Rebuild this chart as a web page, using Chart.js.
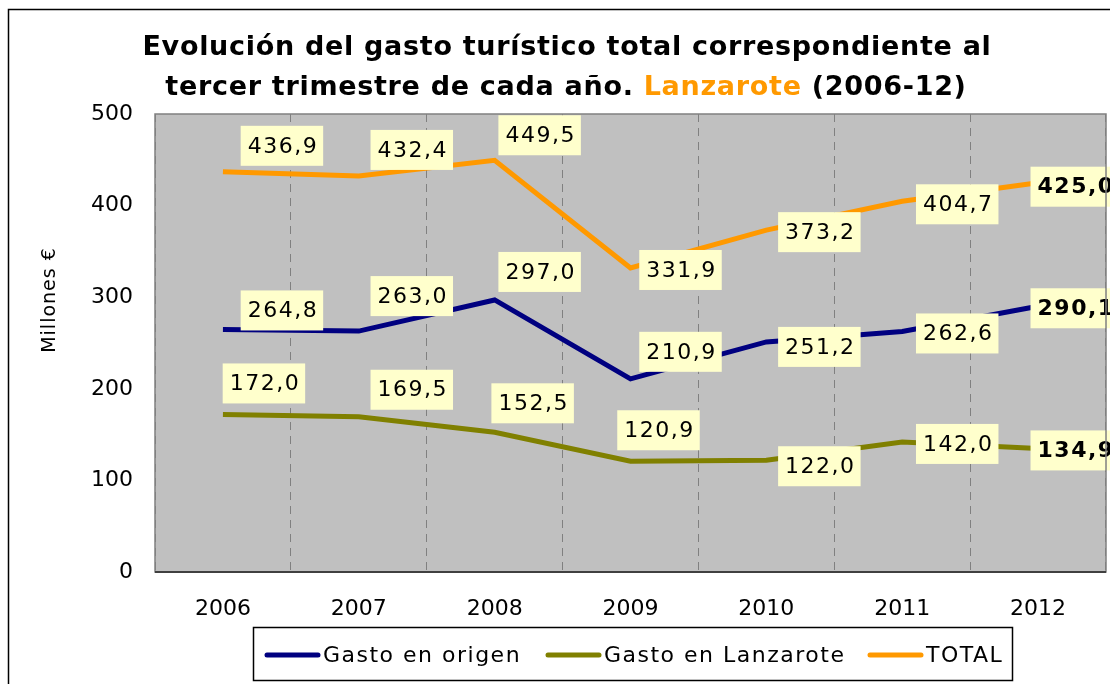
<!DOCTYPE html>
<html>
<head>
<meta charset="utf-8">
<script src="https://cdn.jsdelivr.net/npm/chart.js@4"></script>
<style>
  html, body { margin: 0; padding: 0; background: #fff; }
  #wrap { width: 1110px; height: 684px; }
</style>
</head>
<body>
<div id="wrap"><canvas id="grafico"></canvas></div>
<script>
const anios = ['2006', '2007', '2008', '2009', '2010', '2011', '2012'];
const gastoOrigen = [264.8, 263.0, 297.0, 210.9, 251.2, 262.6, 290.1];
const gastoLanzarote = [172.0, 169.5, 152.5, 120.9, 122.0, 142.0, 134.9];
const gastoTotal = [436.9, 432.4, 449.5, 331.9, 373.2, 404.7, 425.0];
const ticksY = [0, 100, 200, 300, 400, 500];

// desplazamiento de las etiquetas (centro de la caja respecto al punto)
const despOrigen = [[59,-19],[53,-35],[45,-28],[50,-27],[53,5],[55,2],[37,2]];
const despLanzarote = [[41,-31],[53,-27],[38,-29],[28,-31],[53,6],[55,2],[37,2]];
const despTotal = [[59,-26],[53,-26],[45,-25],[50,2],[53,2],[55,3],[37,4]];

const FUENTE = "'DejaVu Sans', Verdana, sans-serif";

const fmt = v => v.toFixed(1).replace('.', ',');

const fondoYMarco = {
    id: 'fondoYMarco',
    beforeDraw(chart) {
        const {ctx, chartArea: a} = chart;
        ctx.save();
        ctx.fillStyle = '#c0c0c0';
        ctx.fillRect(a.left, a.top, a.right - a.left, a.bottom - a.top);
        // marco exterior del grafico
        ctx.strokeStyle = '#000';
        ctx.lineWidth = 1.5;
        ctx.beginPath();
        ctx.moveTo(8.5, 700);
        ctx.lineTo(8.5, 9.5);
        ctx.lineTo(1120, 9.5);
        ctx.stroke();
        ctx.restore();
    },
    afterDraw(chart) {
        const {ctx, chartArea: a} = chart;
        ctx.save();
        ctx.strokeStyle = '#808080';
        ctx.lineWidth = 1.5;
        ctx.strokeRect(a.left, a.top, a.right - a.left, a.bottom - a.top);
        ctx.strokeStyle = '#404040';
        ctx.lineWidth = 2;
        ctx.beginPath();
        ctx.moveTo(a.left, a.bottom);
        ctx.lineTo(a.right, a.bottom);
        ctx.stroke();

        // titulo
        ctx.fillStyle = '#000';
        ctx.textBaseline = 'middle';
        ctx.font = 'bold 27px ' + FUENTE;
        ctx.letterSpacing = '0.7px';
        ctx.textAlign = 'center';
        ctx.fillText('Evolución del gasto turístico total correspondiente al', 567, 48);
        const p1 = 'tercer trimestre de cada año. ';
        const p2 = 'Lanzarote';
        const p3 = ' (2006-12)';
        const w1 = ctx.measureText(p1).width, w2 = ctx.measureText(p2).width, w3 = ctx.measureText(p3).width;
        let x = 566 - (w1 + w2 + w3) / 2;
        ctx.textAlign = 'left';
        ctx.fillText(p1, x, 88);
        ctx.fillStyle = '#ff9900';
        ctx.fillText(p2, x + w1, 88);
        ctx.fillStyle = '#000';
        ctx.fillText(p3, x + w1 + w2, 88);

        // titulo eje y
        ctx.save();
        ctx.translate(50, 300);
        ctx.rotate(-Math.PI / 2);
        ctx.textAlign = 'center';
        ctx.font = '19px ' + FUENTE;
        ctx.letterSpacing = '1px';
        ctx.fillText('Millones €', 0, 0);
        ctx.restore();

        // leyenda
        ctx.fillStyle = '#fff';
        ctx.fillRect(253, 627, 759, 53);
        ctx.strokeStyle = '#000';
        ctx.lineWidth = 1.5;
        ctx.strokeRect(253.5, 627.5, 759, 53);
        ctx.font = '22px ' + FUENTE;
        ctx.letterSpacing = '1.5px';
        ctx.textAlign = 'left';
        const posLeyenda = [267, 548, 870];
        chart.data.datasets.forEach((ds, i) => {
            const lx = posLeyenda[i];
            ctx.strokeStyle = ds.borderColor;
            ctx.lineWidth = 5;
            ctx.lineCap = 'round';
            ctx.beginPath();
            ctx.moveTo(lx, 655);
            ctx.lineTo(lx + 51, 655);
            ctx.stroke();
            ctx.fillStyle = '#000';
            ctx.fillText(ds.label, lx + 56, 656);
        });
        ctx.restore();
    }
};

const etiquetas = {
    id: 'etiquetas',
    afterDatasetsDraw(chart) {
        const {ctx} = chart;
        ctx.save();
        ctx.textAlign = 'center';
        ctx.textBaseline = 'middle';
        ctx.letterSpacing = '1.5px';
        chart.data.datasets.forEach((ds, i) => {
            const meta = chart.getDatasetMeta(i);
            meta.data.forEach((pt, j) => {
                const ultimo = j === ds.data.length - 1;
                ctx.font = (ultimo ? 'bold ' : '') + '22px ' + FUENTE;
                const txt = fmt(ds.data[j]);
                const w = ctx.measureText(txt).width + 12;
                const h = 40;
                const cx = pt.x + ds.desp[j][0];
                const cy = pt.y + ds.desp[j][1];
                ctx.fillStyle = '#ffffcc';
                ctx.fillRect(cx - w / 2, cy - h / 2, w, h);
                ctx.fillStyle = '#000';
                ctx.fillText(txt, cx + 1, cy + 1);
            });
        });
        ctx.restore();
    }
};

new Chart(document.getElementById('grafico').getContext('2d'), {
    type: 'line',
    data: {
        labels: anios,
        datasets: [
            {
                label: 'Gasto en origen',
                data: gastoOrigen,
                desp: despOrigen,
                borderColor: '#000080',
                borderWidth: 5,
                pointRadius: 0,
            },
            {
                label: 'Gasto en Lanzarote',
                data: gastoLanzarote,
                desp: despLanzarote,
                borderColor: '#808000',
                borderWidth: 5,
                pointRadius: 0,
            },
            {
                label: 'TOTAL',
                data: gastoTotal,
                desp: despTotal,
                borderColor: '#ff9900',
                borderWidth: 5,
                pointRadius: 0,
            },
        ],
    },
    options: {
        responsive: true,
        maintainAspectRatio: false,
        animation: false,
        layout: {
            padding: {top: 114, left: 0, right: 4, bottom: 0},
        },
        plugins: {
            legend: {display: false},
            title: {display: false},
            tooltip: {enabled: false},
        },
        scales: {
            x: {
                offset: true,
                grid: {
                    offset: true,
                    drawTicks: false,
                    color: '#808080',
                    lineWidth: 1,
                },
                border: {display: false, dash: [8, 6]},
                ticks: {
                    color: '#000',
                    padding: 24,
                    maxRotation: 0,
                    font: {family: FUENTE, size: 22},
                },
                afterFit(scale) { scale.height = 112; },
            },
            y: {
                min: 0,
                max: 500,
                afterBuildTicks(scale) { scale.ticks = ticksY.map(v => ({value: v})); },
                grid: {display: false, drawTicks: false},
                border: {display: false},
                ticks: {
                    color: '#000',
                    padding: 22,
                    font: {family: FUENTE, size: 22},
                },
                afterFit(scale) { scale.width = 155; },
            },
        },
    },
    plugins: [fondoYMarco, etiquetas],
});
</script>
</body>
</html>
